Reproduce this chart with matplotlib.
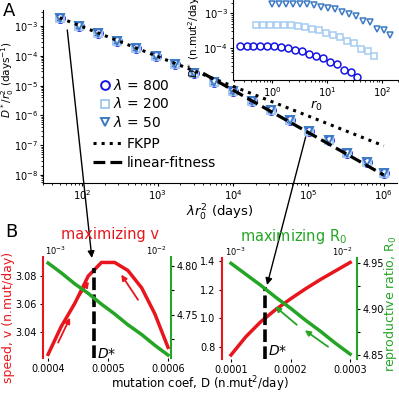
import matplotlib
matplotlib.use('Agg')
import matplotlib.pyplot as plt
import numpy as np
from matplotlib.patches import ConnectionPatch

W, H = 399, 393

# ---- panel A data ----
lam_r2 = [50, 90, 160, 290, 520, 940, 1700, 3000, 5500, 9900,
          17800, 32000, 57000, 103000, 185000, 330000, 600000, 1000000]
d_scaled = [1.86e-3, 1.0e-3, 5.9e-4, 3.2e-4, 1.8e-4, 9.8e-5, 5.2e-5, 2.6e-5,
            1.3e-5, 6.6e-6, 3.0e-6, 1.5e-6, 7.1e-7, 3.0e-7, 1.5e-7, 5.5e-8,
            2.75e-8, 1.17e-8]
lambdas = [800, 200, 50]
lam_markers = ['o', 's', 'v']
lam_colors = ['#1414e6', '#a6cbf0', '#3c7ac4']

fkpp_x = [50, 1000000]
fkpp_y = [1.9e-3, 9.5e-8]
linfit_x = [4000, 1000000]
linfit_y = [2.6e-5, 1.0e-8]

# ---- panel B data ----
# maximizing v
D_v = [0.0004, 0.000422, 0.000444, 0.000467, 0.000489,
       0.000511, 0.000533, 0.000556, 0.000578, 0.0006]
speed_v = [3.024, 3.044, 3.060, 3.080, 3.0897,
           3.0897, 3.084, 3.0716, 3.053, 3.029]          # x 1e-3
r0_v = [4.803, 4.793, 4.782, 4.772, 4.761,
        4.751, 4.740, 4.730, 4.719, 4.709]               # x 1e-2
dstar_v = 0.000477
# maximizing R0
D_r = [0.0001, 0.000125, 0.00015, 0.000175, 0.0002,
       0.000225, 0.00025, 0.000275, 0.0003]
speed_r = [0.742, 0.87, 0.975, 1.06, 1.135, 1.205, 1.27, 1.33, 1.39]
r0_r = [4.950, 4.938, 4.926, 4.913, 4.901, 4.888, 4.876, 4.863, 4.851]
dstar_r = 0.000157

red = '#e8161c'
green = '#25a525'


def box(l, t, r, b):
    return [l / W, 1 - b / H, (r - l) / W, (b - t) / H]


fig = plt.figure(figsize=(W / 100, H / 100), dpi=100)

# ================= panel A =================
axA = fig.add_axes(box(43, 10, 397, 183))
mk_handles = []
for lam, m, c in zip(lambdas, lam_markers, lam_colors):
    h, = axA.plot(lam_r2, d_scaled, ls='none', marker=m, ms=6.3, mfc='none',
                  mec=c, mew=1.4, label=r'$\lambda$ = %d' % lam, zorder=2)
    mk_handles.append(h)
l1, = axA.plot(fkpp_x, fkpp_y, ':', color='k', lw=2.2, label='FKPP', zorder=3)
l2, = axA.plot(linfit_x, linfit_y, '--', color='k', lw=2.3,
               label='linear-fitness', zorder=3)
axA.set_xscale('log')
axA.set_yscale('log')
axA.set_xlim(30, 1.5e6)
axA.set_ylim(10 ** -8.27, 10 ** -2.46)
for s in ['top', 'right']:
    axA.spines[s].set_visible(False)
axA.tick_params(labelsize=7.2, length=2.5, pad=1)
axA.tick_params(axis='y', labelsize=7)
axA.tick_params(which='minor', length=1.6)
axA.set_xlabel(r'$\lambda r_0^2$ (days)', fontsize=9.5, labelpad=1)
axA.set_ylabel(r'$D^*/r_0^2$ (days$^{-1}$)', fontsize=7.5)
axA.yaxis.set_label_coords(-0.076, 0.6)

leg1 = axA.legend(handles=mk_handles, loc='upper left',
                  bbox_to_anchor=(0.164, 0.607), frameon=False, fontsize=10,
                  handlelength=0.6, handletextpad=0.25, labelspacing=0.25,
                  borderpad=0, borderaxespad=0)
axA.add_artist(leg1)
axA.legend(handles=[l1, l2], loc='upper left', bbox_to_anchor=(0.141, 0.266),
           frameon=False, fontsize=10, handlelength=2.15, handletextpad=0.3,
           labelspacing=0.38, borderpad=0, borderaxespad=0)

# inset
axIn = fig.add_axes(box(233, -10, 399, 80))
for lam, m, c in zip(lambdas, lam_markers, lam_colors):
    r0 = np.sqrt(np.array(lam_r2) / lam)
    dstar = np.array(d_scaled) * np.array(lam_r2) / lam
    axIn.plot(r0, dstar, ls='none', marker=m, ms=5, mfc='none', mec=c, mew=1.1)
axIn.set_xscale('log')
axIn.set_yscale('log')
axIn.set_xlim(0.19, 205)
axIn.set_ylim(1.2e-5, 10 ** -2.33)
for s in ['top', 'right']:
    axIn.spines[s].set_visible(False)
axIn.tick_params(labelsize=7.2, length=2.5, pad=1)
axIn.tick_params(which='minor', length=1.6)
axIn.set_xlabel(r'$r_0$', fontsize=9.5, labelpad=0)
axIn.set_ylabel(r'$D^*$ (n.mut$^2$/day)', fontsize=7.5, labelpad=1)

fig.text(3 / W, 1 - 2 / H, 'A', fontsize=13, ha='left', va='top')
fig.text(5 / W, 1 - 223 / H, 'B', fontsize=13, ha='left', va='top')


# ================= panel B =================
def style_pair(ax, axr):
    for s in ['top', 'right', 'bottom']:
        ax.spines[s].set_visible(False)
    for s in ['top', 'left', 'bottom']:
        axr.spines[s].set_visible(False)
    ax.spines['left'].set_color(red)
    ax.spines['left'].set_linewidth(1.5)
    axr.spines['right'].set_color(green)
    axr.spines['right'].set_linewidth(1.5)
    ax.tick_params(labelsize=7, length=2.5, pad=2)
    axr.tick_params(labelsize=7, length=2.5, pad=2)


axB1 = fig.add_axes(box(42.7, 257, 170.7, 358))
axB1r = axB1.twinx()
axB1.plot(D_v, speed_v, color=red, lw=2.5)
axB1r.plot(D_v, r0_v, color=green, lw=2.5)
axB1.plot([dstar_v, dstar_v], [3.0214, 3.0857], '--', color='k', lw=2.6,
          dashes=(3.5, 1.2))
axB1.set_xlim(0.000391, 0.0006045)
axB1.set_ylim(3.0214, 3.0936)
axB1r.set_ylim(4.706, 4.8092)
axB1.set_xticks([0.0004, 0.0005, 0.0006], ['0.0004', '0.0005', '0.0006'])
axB1.set_yticks([3.04, 3.06, 3.08], ['3.04', '3.06', '3.08'])
axB1r.set_yticks([4.725, 4.75, 4.775, 4.80], ['', '4.75', '', '4.80'])
style_pair(axB1, axB1r)
axB1.set_ylabel('speed, v (n.mut/day)', color=red, fontsize=9)
axB1.yaxis.set_label_coords(-0.215, 0.4)
axB1.text(0.02, 1.0, r'$10^{-3}$', transform=axB1.transAxes, fontsize=6,
          ha='left', va='bottom')
axB1.text(0.97, 1.0, r'$10^{-2}$', transform=axB1.transAxes, fontsize=6,
          ha='right', va='bottom')
axB1.text(dstar_v + 0.000005, 3.024, r'$D$*', fontsize=10, ha='left',
          va='center')
for (x0, y0), (x1, y1) in [((0.0004167, 3.0324), (0.0004367, 3.0502)),
                           ((0.00044, 3.058), (0.000468, 3.076)),
                           ((0.00055, 3.063), (0.000522, 3.081))]:
    axB1.annotate('', xy=(x1, y1), xytext=(x0, y0),
                  arrowprops=dict(arrowstyle='-|>', color=red, lw=1.3,
                                  mutation_scale=8, shrinkA=0, shrinkB=0))
fig.text(110 / W, 1 - 234 / H, 'maximizing v', color=red, fontsize=10.5,
         ha='center', va='center')

axB2 = fig.add_axes(box(221.7, 258, 356.7, 359))
axB2r = axB2.twinx()
axB2.plot(D_r, speed_r, color=red, lw=2.5)
axB2r.plot(D_r, r0_r, color=green, lw=2.5)
axB2.plot([dstar_r, dstar_r], [0.714, 1.218], '--', color='k', lw=2.6,
          dashes=(3.5, 1.2))
axB2.set_xlim(0.0000844, 0.000311)
axB2.set_ylim(0.714, 1.421)
axB2r.set_ylim(4.8457, 4.9558)
axB2.set_xticks([0.0001, 0.0002, 0.0003], ['0.0001', '0.0002', '0.0003'])
axB2.set_yticks([0.8, 1.0, 1.2, 1.4], ['0.8', '1.0', '1.2', '1.4'])
axB2r.set_yticks([4.85, 4.875, 4.90, 4.925, 4.95],
                 ['4.85', '', '4.90', '', '4.95'])
style_pair(axB2, axB2r)
axB2r.set_ylabel(r'reproductive ratio, R$_0$', color=green, fontsize=9)
axB2r.yaxis.set_label_coords(1.19, 0.55)
axB2.text(0.025, 1.0, r'$10^{-3}$', transform=axB2.transAxes, fontsize=6,
          ha='left', va='bottom')
axB2.text(0.97, 1.0, r'$10^{-2}$', transform=axB2.transAxes, fontsize=6,
          ha='right', va='bottom')
axB2.text(dstar_r + 0.000005, 0.77, r'$D$*', fontsize=10, ha='left',
          va='center')
for (x0, y0), (x1, y1) in [((0.0002104, 4.883), (0.000174, 4.903)),
                           ((0.000263, 4.859), (0.000224, 4.877))]:
    axB2r.annotate('', xy=(x1, y1), xytext=(x0, y0),
                   arrowprops=dict(arrowstyle='-|>', color=green, lw=1.3,
                                   mutation_scale=8, shrinkA=0, shrinkB=0))
fig.text(294 / W, 1 - 237 / H, r'maximizing R$_0$', color=green,
         fontsize=10.5, ha='center', va='center')

fig.text(200 / W, 1 - 384 / H, r'mutation coef, D (n.mut$^2$/day)',
         fontsize=8.5, ha='center', va='center')

# connectors from panel A points to panel B optima
for xyA, axB, xyB in [((63, 7.4e-4), axB1, (0.000473, 3.0929)),
                      ((9.2e4, 1.9e-7), axB2, (0.0001605, 1.232))]:
    con = ConnectionPatch(xyA=xyA, coordsA='data', axesA=axA,
                          xyB=xyB, coordsB='data', axesB=axB,
                          arrowstyle='-|>', mutation_scale=10, lw=1,
                          color='k', shrinkA=0, shrinkB=0)
    fig.add_artist(con)

fig.savefig('out.png', dpi=100)
